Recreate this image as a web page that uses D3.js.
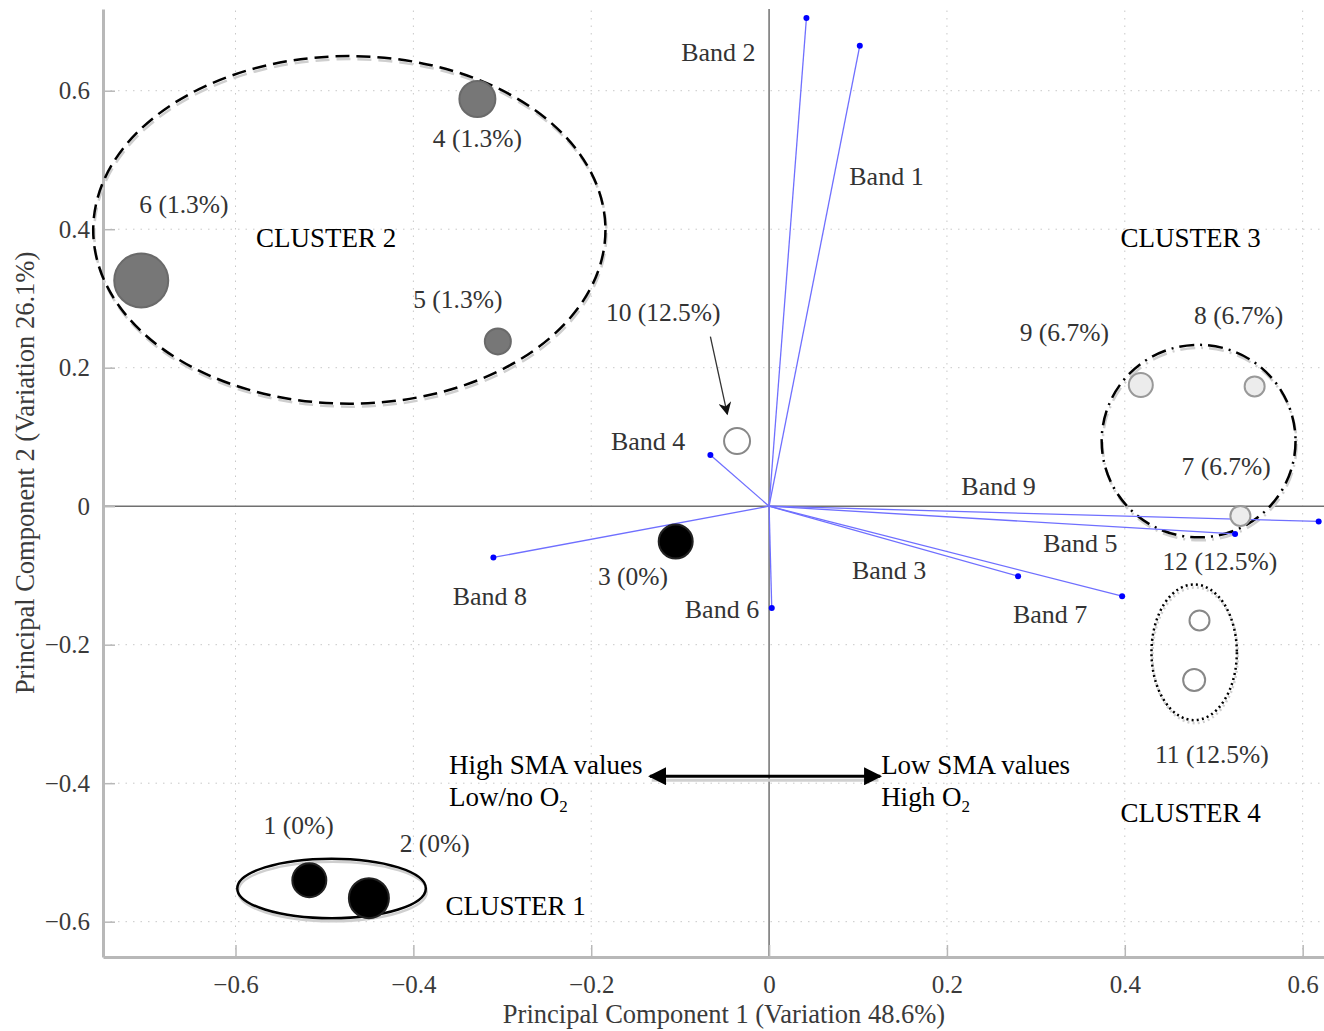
<!DOCTYPE html>
<html>
<head>
<meta charset="utf-8">
<script src="https://cdn.jsdelivr.net/npm/d3@7"></script>
<style>
  body { margin: 0; background: #fff; }
  text { font-family: "Liberation Serif", "Times New Roman", serif; }
  .grid line { stroke: #c8c8c8; stroke-dasharray: 1.5,6; }
  .axis path, .axis line { stroke: #b8b8b8; }
  .axis text { fill: #3a3a3a; font-size: 25px; }
</style>
</head>
<body>
<script>
// sampling sites (PC1, PC2) and their labels
const siteNames = ['1 (0%)', '2 (0%)', '3 (0%)', '4 (1.3%)', '5 (1.3%)', '6 (1.3%)',
  '7 (6.7%)', '8 (6.7%)', '9 (6.7%)', '10 (12.5%)', '11 (12.5%)', '12 (12.5%)']
const siteGroup = ['black', 'black', 'black', 'dark', 'dark', 'dark',
  'light', 'light', 'light', 'open', 'open', 'open']
const pc1 = [-0.517, -0.450, -0.105, -0.328, -0.305, -0.706, 0.530, 0.546, 0.418, -0.036, 0.478, 0.484]
const pc2 = [-0.540, -0.566, -0.051, 0.588, 0.238, 0.326, -0.014, 0.173, 0.175, 0.094, -0.251, -0.165]
const siteLabelX = [-0.529, -0.376, -0.153, -0.328, -0.350, -0.658, 0.514, 0.528, 0.332, -0.119, 0.498, 0.507]
const siteLabelY = [-0.461, -0.487, -0.101, 0.531, 0.299, 0.436, 0.058, 0.276, 0.251, 0.280, -0.358, -0.079]

// band loadings
const bandNames = ['Band 1', 'Band 2', 'Band 3', 'Band 4', 'Band 5', 'Band 6', 'Band 7', 'Band 8', 'Band 9']
const loadX = [0.102, 0.042, 0.280, -0.066, 0.524, 0.003, 0.397, -0.310, 0.618]
const loadY = [0.665, 0.705, -0.101, 0.074, -0.040, -0.147, -0.130, -0.074, -0.022]
const bandLabelX = [0.132, -0.057, 0.135, -0.136, 0.350, -0.053, 0.316, -0.314, 0.258]
const bandLabelY = [0.477, 0.656, -0.092, 0.095, -0.053, -0.149, -0.155, -0.130, 0.029]

// cluster ellipses (centre, half-axes in data units)
const clusterNames = ['CLUSTER 1', 'CLUSTER 2', 'CLUSTER 3', 'CLUSTER 4']
const clusterCx = [-0.492, -0.472, 0.483, 0.478]
const clusterCy = [-0.552, 0.399, 0.094, -0.211]
const clusterRx = [0.106, 0.288, 0.109, 0.048]
const clusterRy = [0.043, 0.251, 0.139, 0.098]
const clusterLabelX = [-0.285, -0.498, 0.474, 0.474]
const clusterLabelY = [-0.576, 0.388, 0.388, -0.442]

const xTicks = [-0.6, -0.4, -0.2, 0, 0.2, 0.4, 0.6]
const yTicks = [-0.6, -0.4, -0.2, 0, 0.2, 0.4, 0.6]

// marker styles
const markerRadius = [17, 20, 17, 18, 13, 27, 10, 10, 12, 13, 11, 10]
const groupFill = { black: '#000', dark: '#777', light: '#ececec', open: '#fff' }
const groupStroke = { black: '#222', dark: '#6a6a6a', light: '#999', open: '#888' }
const clusterDash = [null, '14,7', '15,6,2,6', '2,3.2']

const W = 1324, H = 1031
const svg = d3.select('body').append('svg')
    .attr('width', W)
    .attr('height', H)

const x = d3.scaleLinear().domain([-0.749, 0.624]).range([103, 1324])
const y = d3.scaleLinear().domain([-0.651, 0.718]).range([957, 9])

const defs = svg.append('defs')
defs.append('marker')
    .attr('id', 'head')
    .attr('viewBox', '0 0 10 10')
    .attr('refX', 9).attr('refY', 5)
    .attr('markerWidth', 6).attr('markerHeight', 6)
    .attr('orient', 'auto-start-reverse')
    .append('path').attr('d', 'M0,0 L10,5 L0,10 Z').attr('fill', '#000')
defs.append('marker')
    .attr('id', 'thinhead')
    .attr('viewBox', '0 0 10 10')
    .attr('refX', 9).attr('refY', 5)
    .attr('markerWidth', 12).attr('markerHeight', 10)
    .attr('orient', 'auto')
    .append('path').attr('d', 'M0,0 L10,5 L0,10 L3,5 Z').attr('fill', '#111')

// grid
const grid = svg.append('g').attr('class', 'grid')
grid.selectAll('.gx').data(xTicks.filter(d => d !== 0)).enter().append('line')
    .attr('x1', d => x(d)).attr('x2', d => x(d))
    .attr('y1', y.range()[0]).attr('y2', y.range()[1])
grid.selectAll('.gy').data(yTicks.filter(d => d !== 0)).enter().append('line')
    .attr('y1', d => y(d)).attr('y2', d => y(d))
    .attr('x1', x.range()[0]).attr('x2', x.range()[1])

// zero lines
svg.append('line').attr('x1', x.range()[0]).attr('x2', x.range()[1])
    .attr('y1', y(0)).attr('y2', y(0)).attr('stroke', '#707070').attr('stroke-width', 1.5)
svg.append('line').attr('x1', x(0)).attr('x2', x(0))
    .attr('y1', y.range()[0]).attr('y2', y.range()[1]).attr('stroke', '#707070').attr('stroke-width', 1.5)

const fmt = d => d === 0 ? '0' : d3.format('.1f')(d).replace('-', '\u2212')

const xAxis = svg.append('g').attr('class', 'axis')
    .attr('transform', `translate(0,${y.range()[0]})`)
    .call(d3.axisBottom(x).tickValues(xTicks).tickFormat(fmt).tickSizeInner(-12).tickSizeOuter(0).tickPadding(18))
xAxis.select('.domain').attr('stroke-width', 3)
xAxis.selectAll('.tick line').attr('stroke-width', 1.5)

const yAxis = svg.append('g').attr('class', 'axis')
    .attr('transform', `translate(${x.range()[0]},0)`)
    .call(d3.axisLeft(y).tickValues(yTicks).tickFormat(fmt).tickSizeInner(-12).tickSizeOuter(0).tickPadding(13))
yAxis.select('.domain').attr('stroke-width', 3)
yAxis.selectAll('.tick line').attr('stroke-width', 1.5)
svg.selectAll('.axis text').attr('font-family', '"Liberation Serif", serif')

// axis titles
svg.append('text')
    .attr('x', 724).attr('y', 1023)
    .attr('text-anchor', 'middle').attr('font-size', 26.5).attr('fill', '#3a3a3a')
    .text('Principal Component 1 (Variation 48.6%)')
svg.append('text')
    .attr('transform', `translate(34,${y(0.048)}) rotate(-90)`)
    .attr('text-anchor', 'middle').attr('font-size', 26.5).attr('fill', '#3a3a3a')
    .text('Principal Component 2 (Variation 26.1%)')

// cluster ellipses with shadow
const clusters = clusterNames.map((name, i) => ({ name, i }))
clusters.forEach(c => {
    const i = c.i
    const rx = x(clusterCx[i] + clusterRx[i]) - x(clusterCx[i])
    const ry = y(clusterCy[i] - clusterRy[i]) - y(clusterCy[i])
    svg.append('ellipse')
        .attr('cx', x(clusterCx[i]) + 1).attr('cy', y(clusterCy[i]) + 3)
        .attr('rx', rx).attr('ry', ry)
        .attr('fill', 'none').attr('stroke', '#cfcfcf').attr('stroke-width', 2.5)
        .attr('stroke-dasharray', clusterDash[i])
    svg.append('ellipse')
        .attr('cx', x(clusterCx[i])).attr('cy', y(clusterCy[i]))
        .attr('rx', rx).attr('ry', ry)
        .attr('fill', 'none').attr('stroke', '#000').attr('stroke-width', 2.5)
        .attr('stroke-dasharray', clusterDash[i])
})
svg.selectAll('.clabel').data(clusters).enter().append('text')
    .attr('x', d => x(clusterLabelX[d.i])).attr('y', d => y(clusterLabelY[d.i]))
    .attr('dy', '0.35em').attr('text-anchor', 'middle')
    .attr('font-size', 27).attr('fill', '#000')
    .text(d => d.name)

// loading vectors
const bands = bandNames.map((name, i) => ({ name, lx: loadX[i], ly: loadY[i], tx: bandLabelX[i], ty: bandLabelY[i] }))
svg.selectAll('.vec').data(bands).enter().append('line')
    .attr('x1', x(0)).attr('y1', y(0))
    .attr('x2', d => x(d.lx)).attr('y2', d => y(d.ly))
    .attr('stroke', '#6f6fff').attr('stroke-width', 1.3)
svg.selectAll('.vdot').data(bands).enter().append('circle')
    .attr('cx', d => x(d.lx)).attr('cy', d => y(d.ly)).attr('r', 3)
    .attr('fill', '#0000ff')
svg.selectAll('.blabel').data(bands).enter().append('text')
    .attr('x', d => x(d.tx)).attr('y', d => y(d.ty))
    .attr('dy', '0.35em').attr('text-anchor', 'middle')
    .attr('font-size', 26).attr('fill', '#333')
    .text(d => d.name)

// sites
const sites = siteNames.map((name, i) => ({ name, i }))
svg.selectAll('.site').data(sites).enter().append('circle')
    .attr('cx', d => x(pc1[d.i])).attr('cy', d => y(pc2[d.i]))
    .attr('r', d => markerRadius[d.i])
    .attr('fill', d => groupFill[siteGroup[d.i]])
    .attr('stroke', d => groupStroke[siteGroup[d.i]])
    .attr('stroke-width', 2)
svg.selectAll('.slabel').data(sites).enter().append('text')
    .attr('x', d => x(siteLabelX[d.i])).attr('y', d => y(siteLabelY[d.i]))
    .attr('dy', '0.35em').attr('text-anchor', 'middle')
    .attr('font-size', 25.5).attr('fill', '#333')
    .text(d => d.name)

// arrow pointing at site 10
svg.append('line')
    .attr('x1', x(-0.066)).attr('y1', y(0.245))
    .attr('x2', x(-0.047)).attr('y2', y(0.133))
    .attr('stroke', '#333').attr('stroke-width', 1.3)
    .attr('marker-end', 'url(#thinhead)')

// SMA / O2 double arrow
svg.append('line')
    .attr('x1', x(-0.132)).attr('x2', x(0.123))
    .attr('y1', y(-0.390) + 4).attr('y2', y(-0.390) + 4)
    .attr('stroke', '#d0d0d0').attr('stroke-width', 3)
svg.append('line')
    .attr('x1', x(-0.134)).attr('x2', x(0.125))
    .attr('y1', y(-0.390)).attr('y2', y(-0.390))
    .attr('stroke', '#000').attr('stroke-width', 3)
    .attr('marker-start', 'url(#head)').attr('marker-end', 'url(#head)')

function twoLine(px, lines) {
    lines.forEach((l, k) => {
        const t = svg.append('text')
            .attr('x', x(px)).attr('y', y(k === 0 ? -0.373 : -0.420))
            .attr('dy', '0.35em').attr('font-size', 27).attr('fill', '#000')
        t.append('tspan').text(l[0])
        if (l[1]) {
            t.append('tspan').attr('font-size', 17).attr('dy', 6).text(l[1])
        }
    })
}
twoLine(-0.360, [['High SMA values'], ['Low/no O', '2']])
twoLine(0.126, [['Low SMA values'], ['High O', '2']])
</script>
</body>
</html>
